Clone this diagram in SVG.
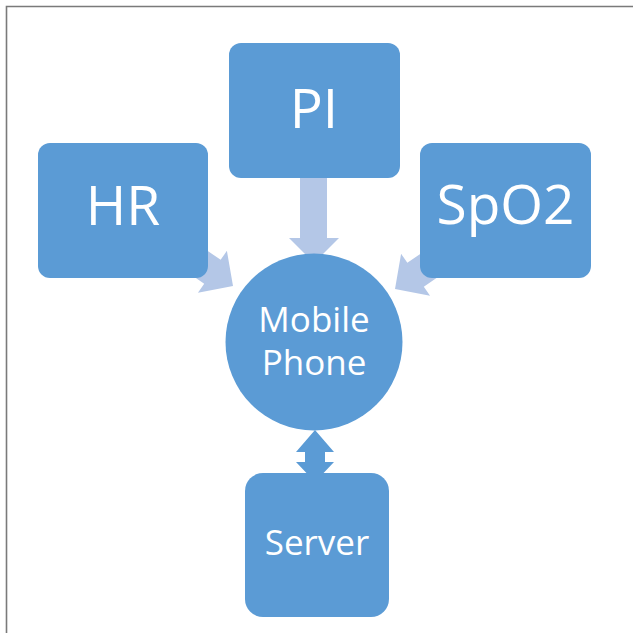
<svg xmlns="http://www.w3.org/2000/svg" width="633" height="633" viewBox="0 0 633 633">
  <style>
    .box { fill: #5B9BD5; }
    .lbl { fill: #FFFFFF; font-family: "Open Sans", "Liberation Sans", sans-serif; text-anchor: middle; }
    .big { font-size: 55px; }
    .mid { font-size: 35px; }
    .feed { fill: #B4C7E7; }
    .link { fill: #5B9BD5; }
  </style>
  <defs>
    <path id="fat-arrow" d="M-90,-14.5 H-25 V-25.5 L0,0 L-25,25.5 V14.5 H-90 Z"/>
  </defs>
  <rect x="0" y="0" width="633" height="633" fill="#FFFFFF"/>
  <path d="M6.5,633 V6.5 H633" fill="none" stroke="#7A7A7A" stroke-width="1.6"/>

  <g id="connectors">
    <path class="feed" d="M300,178 H327 V238 H339 L314,263 L289,238 H300 Z"/>
    <use class="feed" href="#fat-arrow" transform="translate(233,286) rotate(34.6)"/>
    <use class="feed" href="#fat-arrow" transform="translate(395,289) rotate(145.4)"/>
    <path class="link" d="M315,430 L334,452 H325 V462 H334 L315,482 L296,462 H305 V452 H296 Z"/>
  </g>

  <g id="node-hr">
    <rect class="box" x="38" y="143" width="170" height="135" rx="12"/>
    <text class="lbl big" x="123" y="225">HR</text>
  </g>
  <g id="node-pi">
    <rect class="box" x="229" y="43" width="171" height="135" rx="12"/>
    <text class="lbl big" x="314" y="128">PI</text>
  </g>
  <g id="node-spo2">
    <rect class="box" x="420" y="143" width="171" height="135" rx="12"/>
    <text class="lbl big" x="505.5" y="224">SpO2</text>
  </g>
  <g id="node-mobile">
    <circle class="box" cx="314" cy="342" r="88.5"/>
    <text class="lbl mid" x="314" y="332">Mobile</text>
    <text class="lbl mid" x="314" y="375">Phone</text>
  </g>
  <g id="node-server">
    <rect class="box" x="245" y="473" width="144" height="144" rx="18"/>
    <text class="lbl" style="font-size:35px" x="317" y="555">Server</text>
  </g>
</svg>
